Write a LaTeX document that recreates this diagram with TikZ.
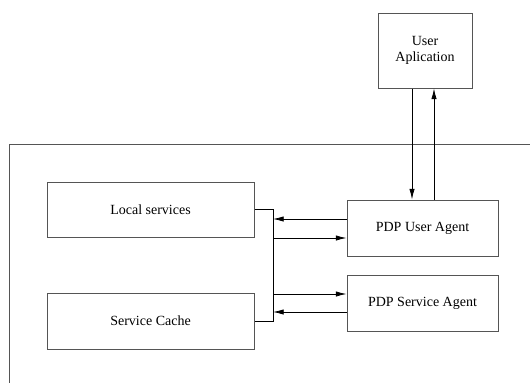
\documentclass[tikz,border=0pt]{standalone}
\usepackage{fontspec}
\setmainfont{Liberation Serif}
\usetikzlibrary{arrows.meta}

\begin{document}
\begin{tikzpicture}[x=0.75pt,y=-0.75pt,
	every node/.style={font=\fontsize{10.5}{12.5}\selectfont},
	box/.style={draw=linegray, line width=0.75pt, rectangle, align=center},
	arr/.style={draw=black, line width=0.6pt, -{Latex[length=8pt,width=4pt]}}]
		% Define colors
		\definecolor{linegray}{RGB}{85, 85, 85}
		
		\useasboundingbox (0,0) rectangle (530,383);
		
		% OUTER FRAME (open to the right and bottom)
		\draw[linegray, line width=0.75pt] (530,144) -- (9,144) -- (9,383);
		
		% TOP: user application
		\node[box, minimum width=70.5pt, minimum height=56.25pt] (user) at (425,50.5) {User\\Aplication};
		
		% LEFT SIDE: local components
		\node[box, minimum width=155.25pt, minimum height=41.25pt] (local) at (150.5,209.5) {Local services};
		\node[box, minimum width=155.25pt, minimum height=42pt] (cache) at (150.5,321) {Service Cache};
		
		% RIGHT SIDE: agents
		\node[box, minimum width=113.25pt, minimum height=42pt] (pua) at (422.5,228) {PDP User Agent};
		\node[box, minimum width=113.25pt, minimum height=42pt] (psa) at (422.5,303) {PDP Service Agent};
		
		% Bus joining the left boxes
		\coordinate (bustop) at (273,209.5);
		\coordinate (busbot) at (273,321);
		\draw[black, line width=0.75pt] (local.east) -- (bustop) -- (busbot) -- (cache.east);
		
		% User application <-> PDP User Agent
		\draw[arr] ([shift={(-13,0)}]user.south) -- ([shift={(-10.5,0)}]pua.north);
		\draw[arr] ([shift={(11.5,0)}]pua.north) -- ([shift={(9,0)}]user.south);
		
		% Agents <-> bus
		\draw[arr] ([shift={(0,-9)}]pua.west) -- ([shift={(0,-9)}]pua.west -| bustop);
		\draw[arr] ([shift={(0,10)}]pua.west -| bustop) -- ([shift={(0,10)}]pua.west);
		\draw[arr] ([shift={(0,-9)}]psa.west -| bustop) -- ([shift={(0,-9)}]psa.west);
		\draw[arr] ([shift={(0,9)}]psa.west) -- ([shift={(0,9)}]psa.west -| bustop);
		
	\end{tikzpicture}
\end{document}
